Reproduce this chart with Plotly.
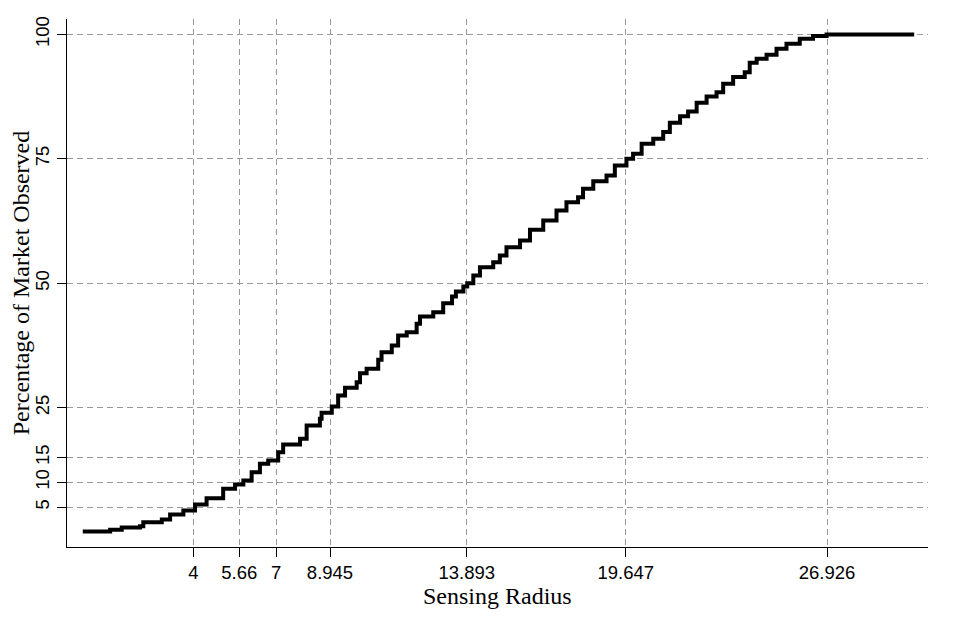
import plotly.graph_objects as go

# Step points of the empirical CDF (sensing radius, percentage observed)
radius = [0.00, 0.99, 1.41, 2.07, 2.19, 2.86, 3.16, 3.64, 4.06, 4.48, 5.08, 5.51,
          5.81, 6.11, 6.41, 6.71, 7.07, 7.25, 7.86, 8.10, 8.58, 8.64, 9.01, 9.24,
          9.49, 9.91, 10.03, 10.27, 10.69, 10.81, 11.18, 11.41, 11.72, 12.08, 12.20,
          12.68, 13.04, 13.36, 13.50, 13.77, 13.91, 14.13, 14.37, 14.85, 15.09, 15.33,
          15.82, 16.18, 16.66, 17.14, 17.50, 17.92, 18.10, 18.47, 18.95, 19.25, 19.67,
          19.91, 20.22, 20.64, 21.00, 21.24, 21.61, 21.90, 22.21, 22.57, 22.93, 23.17,
          23.53, 23.95, 24.13, 24.38, 24.74, 25.10, 25.46, 25.94, 26.42, 26.91, 30.08]
percent = [0.1, 0.46, 0.92, 1.19, 1.99, 2.53, 3.54, 4.34, 5.55, 6.81, 8.70, 9.57,
           10.37, 12.04, 13.73, 14.39, 16.06, 17.60, 18.75, 21.42, 22.77, 23.98, 25.24, 27.45,
           29.00, 30.12, 31.93, 32.82, 34.63, 36.15, 37.50, 39.51, 40.17, 41.86, 43.33,
           44.19, 46.00, 47.35, 48.35, 49.36, 50.0, 51.57, 53.24, 54.24, 55.59, 57.25,
           58.60, 60.75, 62.62, 64.63, 66.30, 67.30, 68.99, 70.52, 71.66, 73.67, 75.02,
           76.02, 78.03, 79.04, 80.37, 82.26, 83.58, 84.53, 86.27, 87.54, 88.40, 90.09,
           91.42, 92.42, 94.31, 95.12, 95.92, 97.13, 98.13, 99.14, 99.66, 100.0, 100.0]

x_ticks = [4, 5.66, 7, 8.945, 13.893, 19.647, 26.926]
x_tick_labels = ["4", "5.66", "7", "8.945", "13.893", "19.647", "26.926"]
y_ticks = [5, 10, 15, 25, 50, 75, 100]
y_tick_labels = ["5", "10", "15", "25", "50", "75", "100"]

fig = go.Figure()
fig.add_trace(go.Scatter(
    x=radius, y=percent, mode="lines", line_shape="hv",
    line=dict(color="black", width=4), showlegend=False, hoverinfo="skip"))

axis_common = dict(
    showline=True, linecolor="black", linewidth=1.3, mirror=False,
    ticks="outside", ticklen=9, tickcolor="black", tickwidth=1.3,
    showgrid=True, gridcolor="#999999", gridwidth=1, griddash="6px,4px",
    zeroline=False, automargin=False,
    tickfont=dict(family="Liberation Sans, Arial, sans-serif", size=18.5, color="black"),
)

fig.update_xaxes(
    range=[-0.57, 30.58], tickmode="array", tickvals=x_ticks, ticktext=x_tick_labels,
    **axis_common)
fig.update_yaxes(
    range=[-3.0, 103.1], tickmode="array", tickvals=y_ticks, ticktext=y_tick_labels,
    tickangle=-90,
    title=dict(text="Percentage of Market Observed", standoff=2,
               font=dict(family="Liberation Serif, Times New Roman, serif", size=24, color="black")),
    **axis_common)

fig.add_annotation(
    text="Sensing Radius", xref="paper", yref="paper", x=0.5, y=-0.093,
    xanchor="center", yanchor="middle", showarrow=False,
    font=dict(family="Liberation Serif, Times New Roman, serif", size=24, color="black"))

# The page body adds an 8px offset, so the figure is sized to fit the window.
fig.update_layout(
    width=945, height=611,
    margin=dict(l=59, r=25, t=11, b=72),
    plot_bgcolor="white", paper_bgcolor="white",
)

fig.write_html("out.html")
